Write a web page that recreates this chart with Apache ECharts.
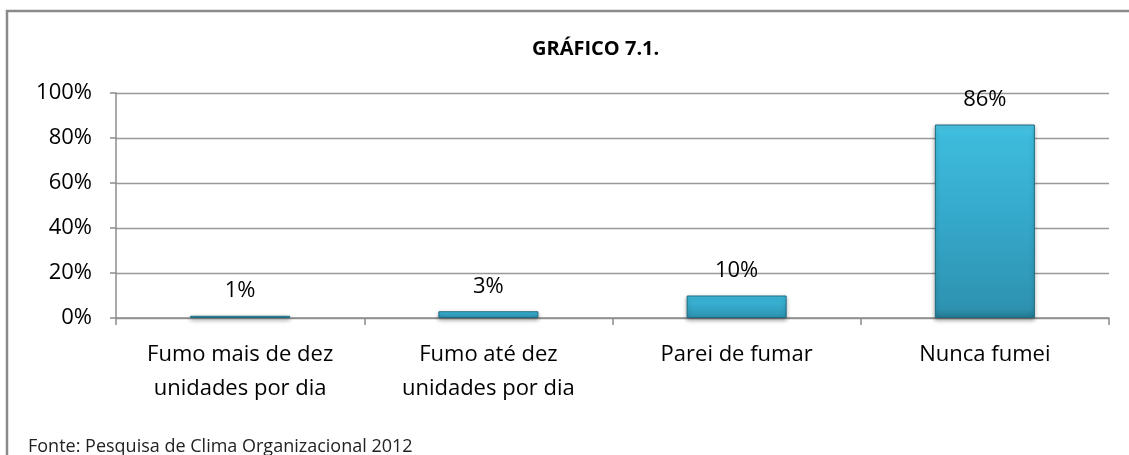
<!DOCTYPE html>
<html>
<head>
<meta charset="utf-8">
<script src="https://cdn.jsdelivr.net/npm/echarts@6/dist/echarts.min.js"></script>
<style>
  html, body { margin: 0; padding: 0; background: #ffffff; }
  #chart { width: 1129px; height: 455px; }
</style>
</head>
<body>
<div id="chart"></div>
<script>
// Smoking habits survey – share of respondents per answer
const categories = [
  'Fumo mais de dez\nunidades por dia',
  'Fumo até dez\nunidades por dia',
  'Parei de fumar',
  'Nunca fumei'
];
const shares = [1, 3, 10, 86];
const yTicks = [0, 20, 40, 60, 80, 100];

const FONT = '"Open Sans", "Noto Sans", sans-serif';

const chart = echarts.init(document.getElementById('chart'), null, { renderer: 'canvas' });

// bevelled teal fill: lighter at the top, darker towards the base
const barFill = new echarts.graphic.LinearGradient(0, 0, 0, 1, [
  { offset: 0, color: '#4cc9e8' },
  { offset: 0.06, color: '#3dbbdc' },
  { offset: 0.5, color: '#35a8ca' },
  { offset: 0.95, color: '#2e93b1' },
  { offset: 1, color: '#23788f' }
]);

chart.setOption({
  animation: false,
  backgroundColor: '#ffffff',
  title: {
    text: 'GRÁFICO 7.1.',
    left: 527,
    top: 34,
    textStyle: { fontFamily: FONT, fontSize: 20, fontWeight: 'bold', color: '#000' }
  },
  graphic: [
    {
      type: 'polyline',
      shape: { points: [[7, 470], [7, 11], [1140, 11]] },
      style: { stroke: '#8a8a8a', lineWidth: 2.5, fill: null }
    },
    {
      type: 'text',
      left: 28,
      top: 438,
      style: {
        text: 'Fonte: Pesquisa de Clima Organizacional 2012',
        fontFamily: FONT,
        fontSize: 18,
        fill: '#222'
      }
    }
  ],
  grid: { left: 116, right: 20, top: 93, bottom: 137 },
  xAxis: {
    type: 'category',
    data: categories,
    axisLine: { lineStyle: { color: '#8c8c8c', width: 1.5 } },
    axisTick: { show: true, length: 7, lineStyle: { color: '#8c8c8c', width: 1.5 } },
    axisLabel: {
      interval: 0,
      margin: 20,
      fontFamily: FONT,
      fontSize: 22,
      lineHeight: 34,
      color: '#000'
    }
  },
  yAxis: {
    type: 'value',
    min: 0,
    max: 100,
    interval: 20,
    axisLine: { show: true, lineStyle: { color: '#8c8c8c', width: 1.5 } },
    axisTick: { show: true, length: 6, lineStyle: { color: '#8c8c8c', width: 1.5 } },
    splitLine: { lineStyle: { color: '#999999', width: 1.3 } },
    axisLabel: {
      margin: 24,
      fontFamily: FONT,
      fontSize: 22,
      color: '#000',
      formatter: v => (yTicks.includes(v) ? v + '%' : '')
    }
  },
  series: [{
    type: 'bar',
    data: shares,
    barWidth: 100,
    itemStyle: {
      color: barFill,
      borderColor: '#1d6b80',
      borderWidth: 1,
      shadowColor: 'rgba(0,0,0,0.35)',
      shadowBlur: 4,
      shadowOffsetY: 2
    },
    label: {
      show: true,
      position: 'top',
      distance: 14,
      fontFamily: FONT,
      fontSize: 22,
      color: '#000',
      formatter: p => p.value + '%'
    }
  }]
});
</script>
</body>
</html>
